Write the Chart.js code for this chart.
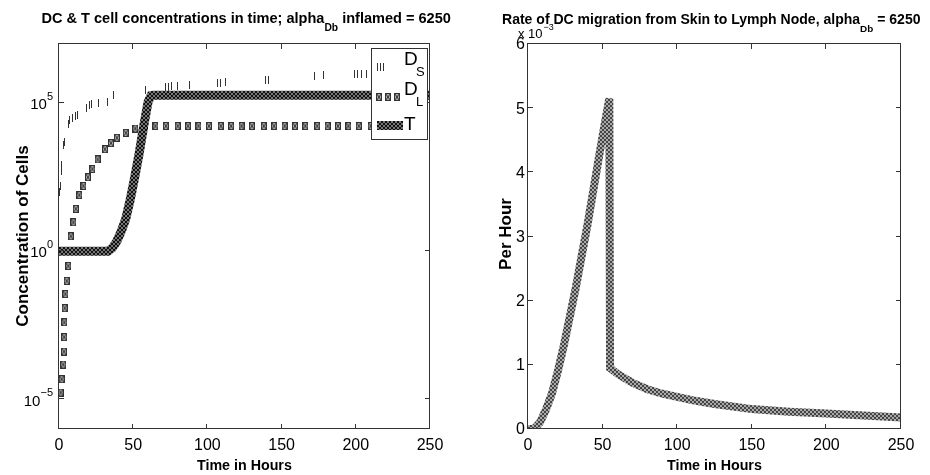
<!DOCTYPE html>
<html>
<head>
<meta charset="utf-8">
<script src="https://cdn.jsdelivr.net/npm/chart.js@4.4.1/dist/chart.umd.min.js"></script>
<style>
  html, body { margin: 0; padding: 0; background: #fff; }
  #wrap { position: relative; width: 930px; height: 475px; }
  #wrap canvas { position: absolute; top: 0; }
</style>
</head>
<body>
<div id="wrap">
  <canvas id="cells" width="465" height="475" style="left:0"></canvas>
  <canvas id="rate" width="465" height="475" style="left:465px"></canvas>
</div>
<script>
// Shared axis ticks
const hourTicks = [0, 50, 100, 150, 200, 250];

// Left panel: concentrations on a log axis
const concTicks = [1e-5, 1, 1e5];
const concTickExp = ['\u22125', '0', '5'];

const tCellHours = [0, 33, 36, 39, 42, 45, 48, 51, 54, 57, 60, 62, 64, 250];
const tCellConc = [1, 1, 1.3, 2.2, 4.8, 12.6, 56, 316, 2000, 1.6e4, 1.1e5, 1.8e5, 1.86e5, 1.86e5];

const dlHours = [1.1, 1.8, 2.9, 3.4, 3.5, 3.6, 3.8, 4.3, 5.2, 6.3, 7.0, 7.9, 9.7, 11.3, 13.7,
  16.5, 19.5, 22.5, 26, 31, 35, 39, 45, 51.4, 58,
  65, 72, 80, 87, 94, 101, 109, 116, 123, 130, 138, 145, 152, 159, 166,
  174, 181, 188, 195, 202, 210, 217, 224, 231, 238, 246];
const dlConc = [1.7e-5, 4.8e-5, 1.5e-4, 4.1e-4, 1.26e-3, 4.0e-3, 1.2e-2, 3.6e-2, 0.10, 0.32, 1.0, 3.2, 9.5, 27, 79,
  160, 316, 600, 1260, 2800, 4500, 6800, 1.0e4, 1.4e4, 1.66e4,
  1.7e4, 1.7e4, 1.7e4, 1.7e4, 1.7e4, 1.7e4, 1.7e4, 1.7e4, 1.7e4, 1.7e4, 1.7e4, 1.7e4, 1.7e4, 1.7e4, 1.7e4,
  1.7e4, 1.7e4, 1.7e4, 1.7e4, 1.7e4, 1.7e4, 1.7e4, 1.7e4, 1.7e4, 1.7e4, 1.7e4];

const dsHours = [0.4, 0.7, 1.4, 1.6, 2.9, 3.6, 6.5, 7.4, 9.0, 10.8, 12.5, 18.7, 20.5, 22, 26.6, 33, 36.5,
  58, 72, 74, 76, 80, 88, 107, 109, 112, 139, 141, 172, 178, 199, 201, 204, 207, 230, 240];
const dsConc = [100, 160, 520, 790, 4000, 5000, 2.0e4, 2.7e4, 3.2e4, 3.6e4, 4.0e4, 6.8e4, 8.5e4, 9.5e4, 1.0e5, 1.1e5, 1.9e5,
  2.8e5, 3.5e5, 3.6e5, 3.7e5, 3.8e5, 4.0e5, 5.0e5, 5.0e5, 5.2e5, 6.3e5, 6.3e5, 8.5e5, 8.9e5, 9.5e5, 9.8e5, 1.0e6, 1.0e6, 1.1e6, 1.15e6];

// Right panel: migration rate per hour
const rateTicks = [0, 1e-3, 2e-3, 3e-3, 4e-3, 5e-3, 6e-3];
const rateHours = [0, 4, 8, 12, 16, 20, 24, 28, 32, 36, 40, 44, 48, 51, 54.5,
  55, 60, 65, 70, 80, 90, 100, 110, 125, 150, 175, 200, 225, 250];
const rateValues = [0, 0, 0.1e-3, 0.3e-3, 0.55e-3, 0.9e-3, 1.3e-3, 1.75e-3, 2.2e-3, 2.7e-3, 3.2e-3, 3.75e-3, 4.3e-3, 4.7e-3, 5.15e-3,
  0.95e-3, 0.86e-3, 0.79e-3, 0.72e-3, 0.62e-3, 0.55e-3, 0.5e-3, 0.45e-3, 0.39e-3, 0.31e-3, 0.27e-3, 0.24e-3, 0.21e-3, 0.18e-3];

const FONT = '"Liberation Sans Narrow", "Liberation Sans", Arial, sans-serif';
const pts = (xs, ys) => xs.map((x, i) => ({ x, y: ys[i] }));

// little raster tiles for the dense marker bands
function hatchPattern(ctx, dark, light) {
  const tile = document.createElement('canvas');
  tile.width = 4; tile.height = 4;
  const g = tile.getContext('2d');
  g.fillStyle = light; g.fillRect(0, 0, 4, 4);
  g.fillStyle = dark;
  for (let i = 0; i < 4; i++) { g.fillRect(i, i, 1, 1); g.fillRect(3 - i, i, 1, 1); }
  return ctx.createPattern(tile, 'repeat');
}

function boxCrossMarker() {
  const m = document.createElement('canvas');
  m.width = 6; m.height = 8;
  const g = m.getContext('2d');
  g.fillStyle = '#aaa'; g.fillRect(0, 0, 6, 8);
  g.strokeStyle = '#333'; g.lineWidth = 1;
  g.strokeRect(0.5, 0.5, 5, 7);
  g.beginPath();
  g.moveTo(0.5, 0.5); g.lineTo(5.5, 7.5);
  g.moveTo(5.5, 0.5); g.lineTo(0.5, 7.5);
  g.stroke();
  return m;
}

function barMarker() {
  const m = document.createElement('canvas');
  m.width = 1; m.height = 8;
  const g = m.getContext('2d');
  g.fillStyle = '#333'; g.fillRect(0, 0, 1, 8);
  return m;
}

// text runs with sub/superscripts, optionally squeezed to a target width
function drawRuns(ctx, runs, cx, baseline, targetWidth) {
  const fontOf = (r, k) => `${r.weight || 'normal'} ${r.size * k}px ${FONT}`;
  let w = 0;
  runs.forEach(r => { ctx.font = fontOf(r, 1); w += ctx.measureText(r.text).width; });
  const k = targetWidth ? targetWidth / w : 1;
  let x = cx - (w * k) / 2;
  ctx.textAlign = 'left';
  ctx.textBaseline = 'alphabetic';
  runs.forEach(r => {
    ctx.font = fontOf(r, k);
    ctx.fillText(r.text, x, baseline + (r.dy || 0));
    x += ctx.measureText(r.text).width;
  });
}

// Box, inward ticks, labels and titles in the old-style plotting look
const frame = {
  id: 'frame',
  afterDatasetsDraw(chart, args, opts) {
    const { ctx, chartArea: a, scales } = chart;
    const xs = scales.x, ys = scales.y;
    ctx.save();
    ctx.fillStyle = '#000';
    ctx.strokeStyle = '#333';
    ctx.lineWidth = 1;
    ctx.strokeRect(a.left - 0.5, a.top - 0.5, a.right - a.left, a.bottom - a.top);

    ctx.beginPath();
    hourTicks.forEach(t => {
      const px = Math.round(xs.getPixelForValue(t)) - 0.5;
      ctx.moveTo(px, a.bottom); ctx.lineTo(px, a.bottom - 5);
      ctx.moveTo(px, a.top); ctx.lineTo(px, a.top + 5);
    });
    opts.yTicks.forEach(v => {
      const py = Math.round(ys.getPixelForValue(v)) - 0.5;
      ctx.moveTo(a.left, py); ctx.lineTo(a.left + 5, py);
      ctx.moveTo(a.right, py); ctx.lineTo(a.right - 5, py);
    });
    ctx.stroke();

    ctx.font = `16px ${FONT}`;
    ctx.textAlign = 'center';
    ctx.textBaseline = 'middle';
    hourTicks.forEach(t => ctx.fillText(String(t), xs.getPixelForValue(t), a.bottom + 17));

    opts.yTicks.forEach((v, i) => {
      const py = ys.getPixelForValue(v);
      if (opts.exps) {
        ctx.font = `11px ${FONT}`;
        ctx.textAlign = 'right';
        const ew = ctx.measureText(opts.exps[i]).width;
        ctx.fillText(opts.exps[i], a.left - 6, py - 6);
        ctx.font = `15px ${FONT}`;
        ctx.fillText('10', a.left - 6 - ew, py + 2);
      } else {
        ctx.font = `16px ${FONT}`;
        ctx.textAlign = 'right';
        ctx.fillText(String(Math.round(v * 1000)), a.left - 3, py + 1);
      }
    });

    if (opts.multiplier) {
      ctx.textAlign = 'left';
      ctx.textBaseline = 'alphabetic';
      ctx.font = `13px ${FONT}`;
      ctx.fillText('x 10', a.left - 10, 38);
      const mw = ctx.measureText('x 10').width;
      ctx.font = `9px ${FONT}`;
      ctx.fillText('\u22123', a.left - 10 + mw + 1, 30);
    }

    const cx = (a.left + a.right) / 2;
    drawRuns(ctx, opts.title, opts.titleX, opts.titleY, opts.titleW);
    drawRuns(ctx, [{ text: 'Time in Hours', size: 17, weight: 'bold' }], cx, 470, 95);

    ctx.save();
    ctx.translate(opts.yLabelX, opts.yLabelY);
    ctx.rotate(-Math.PI / 2);
    drawRuns(ctx, [{ text: opts.yLabel, size: 17, weight: 'bold' }], 0, 0);
    ctx.restore();

    if (opts.legend) drawLegend(ctx, opts.legend);
    ctx.restore();
  }
};

function drawLegend(ctx, lg) {
  ctx.fillStyle = '#fff';
  ctx.fillRect(372, 49, 55, 90);
  ctx.strokeStyle = '#333';
  ctx.strokeRect(371.5, 48.5, 56, 91);
  [377, 380, 383].forEach(x => ctx.drawImage(lg.bar, x, 63));
  [376, 385, 394].forEach(x => ctx.drawImage(lg.cross, x, 93));
  ctx.fillStyle = lg.band;
  ctx.fillRect(377, 121, 26, 9);
  ctx.fillStyle = '#000';
  ctx.textAlign = 'left';
  ctx.textBaseline = 'alphabetic';
  ctx.font = `19px ${FONT}`;
  ctx.fillText('D', 404, 65);
  ctx.fillText('D', 404, 95);
  ctx.fillText('T', 404, 130);
  ctx.font = `13px ${FONT}`;
  ctx.fillText('S', 416, 76);
  ctx.fillText('L', 416, 106);
}

const cellsCtx = document.getElementById('cells').getContext('2d');
const rateCtx = document.getElementById('rate').getContext('2d');
const tBand = hatchPattern(cellsCtx, '#111', '#777');
const rateBand = hatchPattern(rateCtx, '#444', '#aaa');
const crossImg = boxCrossMarker();
const barImg = barMarker();

new Chart(cellsCtx, {
  type: 'line',
  data: {
    datasets: [
      { label: 'T', data: pts(tCellHours, tCellConc), borderColor: tBand, borderWidth: 9,
        pointRadius: 0, tension: 0, order: 0, clip: 0 },
      { label: 'D_L', data: pts(dlHours, dlConc), showLine: false, pointStyle: crossImg,
        pointRadius: 4, order: 1, clip: 0 },
      { label: 'D_S', data: pts(dsHours, dsConc), showLine: false, pointStyle: barImg,
        pointRadius: 4, order: 2, clip: 0 }
    ]
  },
  options: {
    responsive: false,
    animation: false,
    events: [],
    layout: { padding: { left: 59, right: 35, top: 44, bottom: 46 } },
    scales: {
      x: { type: 'linear', min: 0, max: 250, display: false },
      y: { type: 'logarithmic', min: 1e-6, max: 1e7, display: false }
    },
    plugins: {
      legend: { display: false },
      tooltip: { enabled: false },
      frame: {
        yTicks: concTicks,
        exps: concTickExp,
        title: [
          { text: 'DC & T cell concentrations in time; alpha', size: 17, weight: 'bold' },
          { text: 'Db', size: 12, weight: 'bold', dy: 8 },
          { text: ' inflamed = 6250', size: 17, weight: 'bold' }
        ],
        titleX: 246.5, titleY: 23, titleW: 410,
        yLabel: 'Concentration of Cells', yLabelX: 28, yLabelY: 236,
        legend: { bar: barImg, cross: crossImg, band: tBand }
      }
    }
  },
  plugins: [frame]
});

new Chart(rateCtx, {
  type: 'line',
  data: {
    datasets: [
      { label: 'rate', data: pts(rateHours, rateValues), borderColor: rateBand, borderWidth: 8,
        pointRadius: 0, tension: 0, clip: 0 }
    ]
  },
  options: {
    responsive: false,
    animation: false,
    events: [],
    layout: { padding: { left: 63, right: 29, top: 44, bottom: 46 } },
    scales: {
      x: { type: 'linear', min: 0, max: 250, display: false },
      y: { type: 'linear', min: 0, max: 6e-3, display: false }
    },
    plugins: {
      legend: { display: false },
      tooltip: { enabled: false },
      frame: {
        yTicks: rateTicks,
        multiplier: true,
        title: [
          { text: 'Rate of DC migration from Skin to Lymph Node, alpha', size: 17, weight: 'bold' },
          { text: 'Db', size: 12, weight: 'bold', dy: 8 },
          { text: ' = 6250', size: 17, weight: 'bold' }
        ],
        titleX: 246.5, titleY: 24, titleW: 419,
        yLabel: 'Per Hour', yLabelX: 46, yLabelY: 234
      }
    }
  },
  plugins: [frame]
});
</script>
</body>
</html>
